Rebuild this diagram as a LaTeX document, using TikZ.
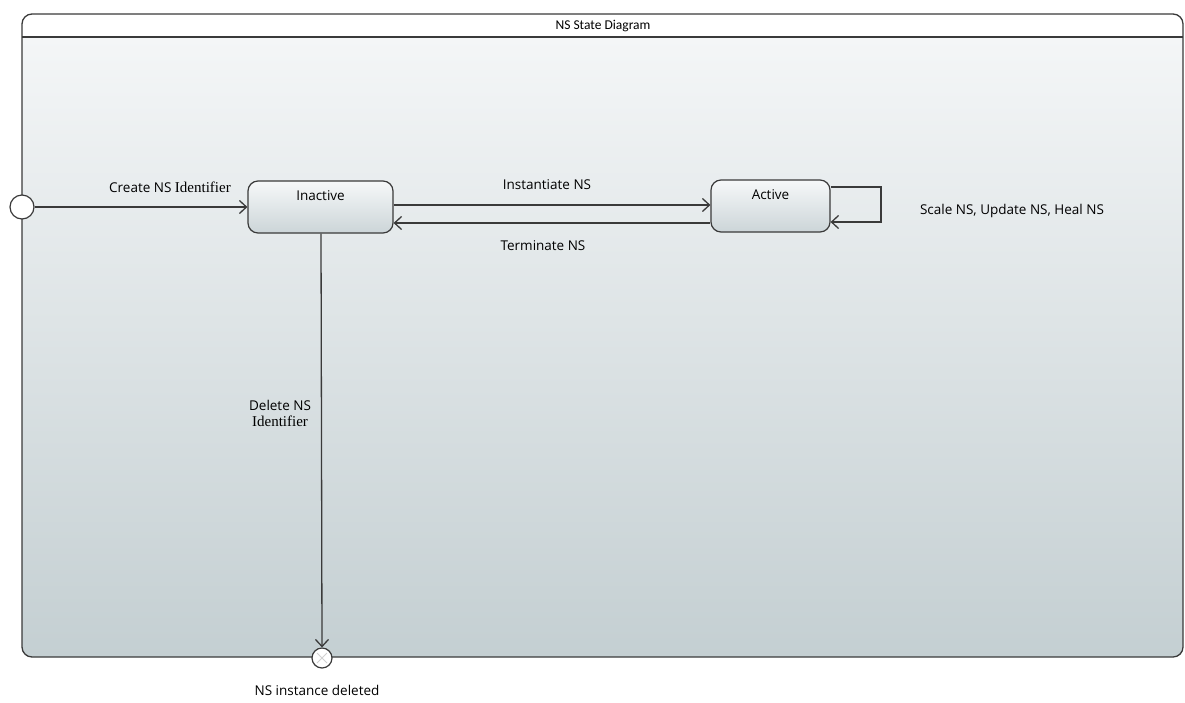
\documentclass[tikz,border=0pt]{standalone}
\usepackage{fontspec}
\setmainfont{Open Sans}
\newfontfamily\serifpart{Liberation Serif}
\newfontfamily\titlefont{Carlito}
\usetikzlibrary{arrows.meta,calc}
\definecolor{bgtop}{HTML}{F4F6F7}
\definecolor{bgbot}{HTML}{C4CFD2}
\definecolor{sttop}{HTML}{F6F8F9}
\definecolor{stbot}{HTML}{CCD5D8}
\definecolor{edge}{HTML}{3A3A3A}
\newcommand{\idword}{{\serifpart\fontsize{15}{16}\selectfont Identifier}}
\begin{document}
\begin{tikzpicture}[x=1pt,y=-1pt,
  every node/.style={font=\fontsize{13.5}{16}\selectfont},
  statebox/.style={draw=edge, line width=1.2pt, rounded corners=10pt,
    top color=sttop, bottom color=stbot, minimum height=52pt,
    text height=13pt, text depth=27pt, inner ysep=6pt, inner xsep=0pt, anchor=center},
  pseudo/.style={circle, draw=edge, line width=1.2pt, fill=white, inner sep=0pt},
  trans/.style={draw=edge, line width=1.3pt, -{Straight Barb[length=7pt,width=13pt,line width=1.3pt]}},
  lbl/.style={inner sep=1pt}
]
\useasboundingbox (0,0) rectangle (1185,702);
% frame
\begin{scope}
  \clip[rounded corners=10pt] (22,14) rectangle (1183,657);
  \fill[white] (22,14) rectangle (1183,40);
  \shade[top color=bgtop, bottom color=bgbot] (22,37) rectangle (1183,657);
\end{scope}
\draw[edge, line width=1.3pt, rounded corners=10pt] (22,14) rectangle (1183,657);
\draw[edge, line width=1.3pt] (22,37) -- (1183,37);
\node[font=\titlefont\fontsize{13.5}{15}\selectfont] (title) at (603,26) {NS State Diagram};

% states
\node[statebox, minimum width=145pt] (inactive) at (320.5,207) {Inactive};
\node[statebox, minimum width=119pt] (active) at (770.5,206) {Active};

% pseudostates
\node[pseudo, minimum size=24pt] (init) at (22,207) {};
\node[pseudo, minimum size=20pt] (final) at (322,658) {};
\draw[black!18, line width=0.8pt] ($(final.center)+(-5,-5)$) -- ($(final.center)+(5,5)$)
  ($(final.center)+(-5,5)$) -- ($(final.center)+(5,-5)$);

% helper coordinates
\coordinate (yinst) at (0,205);
\coordinate (yterm) at (0,223);
\coordinate (yloopa) at (0,187);
\coordinate (yloopb) at (0,222);
\coordinate (loopx) at (881,0);
\coordinate (xdel) at (321,0);

% transitions
\draw[trans] (init.east) -- (inactive.west);
\draw[trans] (inactive.east |- yinst) -- (active.west |- yinst);
\draw[trans] (active.west |- yterm) -- (inactive.east |- yterm);
\draw[trans] (active.east |- yloopa) -- (loopx |- yloopa) -- (loopx |- yloopb) -- (active.east |- yloopb);
\draw[trans] (xdel |- inactive.south) -- (final.north);

% labels
\node[lbl] (lcreate) at (170,187) {Create NS \idword};
\node[lbl] (linst) at (547,185) {Instantiate NS};
\node[lbl] (lterm) at (543,246) {Terminate NS};
\node[lbl] (lscale) at (1012,211) {Scale NS, Update NS, Heal NS};
\node[lbl, align=center] (ldel) at (280,413) {Delete NS\\\idword};
\node[lbl] (lfinal) at (317,690) {NS instance deleted};
\end{tikzpicture}
\end{document}
